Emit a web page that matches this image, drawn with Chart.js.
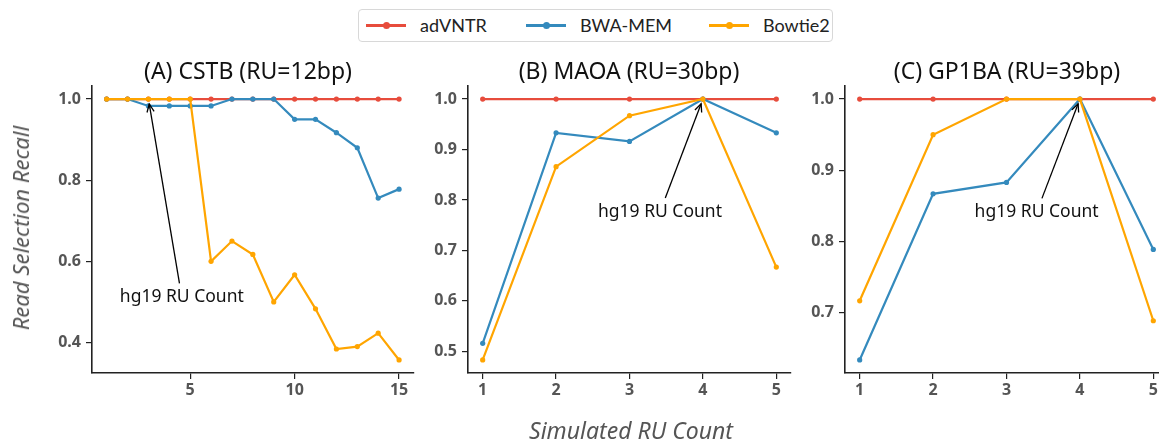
<!DOCTYPE html>
<html>
<head>
<meta charset="utf-8">
<script src="https://cdn.jsdelivr.net/npm/chart.js@4/dist/chart.umd.min.js"></script>
<style>
html,body{margin:0;padding:0;background:#fff;overflow:hidden;}
#wrap{position:relative;width:1159px;height:441px;overflow:hidden;background:#fff;}
canvas{position:absolute;top:0;}
.t{position:absolute;white-space:nowrap;font-family:"Noto Sans",sans-serif;color:#111;}
.title{font-size:23px;transform:translateX(-50%);top:54px;}
.axl{font-style:italic;color:#555;font-size:22px;}
.leg{position:absolute;left:358px;top:9px;width:473px;height:31px;border:1px solid #d8d8d8;border-radius:4px;background:#fff;}
.li{position:absolute;top:0;height:31px;white-space:nowrap;}
.ln{position:absolute;top:14px;width:40px;height:3px;}
.dot{position:absolute;top:12px;width:7px;height:7px;border-radius:50%;}
.lt{position:absolute;top:4px;white-space:nowrap;font-family:Lato,"Noto Sans",sans-serif;font-size:18px;color:#222;}
</style>
</head>
<body>
<div id="wrap">
  <canvas id="cA" width="430" height="441" style="left:0px"></canvas>
  <canvas id="cB" width="390" height="441" style="left:420px"></canvas>
  <canvas id="cC" width="390" height="441" style="left:797px"></canvas>

  <div class="t title" style="left:248px">(A) CSTB (RU=12bp)</div>
  <div class="t title" style="left:629px">(B) MAOA (RU=30bp)</div>
  <div class="t title" style="left:1007px">(C) GP1BA (RU=39bp)</div>

  <div class="t axl" style="left:631px;top:414px;transform:translateX(-50%);font-size:23px">Simulated RU Count</div>
  <div class="t axl" style="left:20px;top:228px;transform:translate(-50%,-50%) rotate(-90deg)">Read Selection Recall</div>

  <div class="leg" id="legend"></div>
</div>
<script>
// ---------------- data ----------------
const seriesNames = ["adVNTR", "BWA-MEM", "Bowtie2"];
const seriesColors = ["#E74C3C", "#348ABD", "#FFA500"];

const titles = ["(A) CSTB (RU=12bp)", "(B) MAOA (RU=30bp)", "(C) GP1BA (RU=39bp)"];

const xA = [1,2,3,4,5,6,7,8,9,10,11,12,13,14,15];
const advntrA = [1,1,1,1,1,1,1,1,1,1,1,1,1,1,1];
const bwaA = [1,1,0.983,0.983,0.983,0.983,1,1,1,0.95,0.95,0.917,0.88,0.756,0.778];
const bowtieA = [1,1,1,1,1,0.6,0.65,0.617,0.5,0.567,0.483,0.384,0.39,0.423,0.357];
const xTicksA = [5,10,15];
const yTicksA = [0.4,0.6,0.8,1.0];

const xB = [1,2,3,4,5];
const advntrB = [1,1,1,1,1];
const bwaB = [0.516,0.933,0.916,1,0.933];
const bowtieB = [0.483,0.866,0.967,1,0.667];
const xTicksB = [1,2,3,4,5];
const yTicksB = [0.5,0.6,0.7,0.8,0.9,1.0];

const xC = [1,2,3,4,5];
const advntrC = [1,1,1,1,1];
const bwaC = [0.634,0.867,0.883,1,0.789];
const bowtieC = [0.717,0.95,1,1,0.689];
const xTicksC = [1,2,3,4,5];
const yTicksC = [0.7,0.8,0.9,1.0];

const annText = "hg19 RU Count";
// [target x, target y, text x, text y] in data units
const annA = [3, 1.0, 4.6, 0.511];
const annB = [4, 1.0, 3.415, 0.776];
const annC = [4, 1.0, 3.41, 0.841];

// ---------------- legend ----------------
const legendX = [7, 167, 350];
const leg = document.getElementById('legend');
seriesNames.forEach((n,i)=>{
  const d = document.createElement('div');
  d.className='li'; d.style.left=legendX[i]+'px';
  d.innerHTML = '<div class="ln" style="left:0;background:'+seriesColors[i]+'"></div>'+
    '<div class="dot" style="left:16.5px;background:'+seriesColors[i]+'"></div>'+
    '<div class="lt" style="left:54px">'+n+'</div>';
  leg.appendChild(d);
});

// ---------------- annotation plugin ----------------
const annPlugin = {
  id:'hgAnno',
  afterDatasetsDraw(chart, args, opts){
    const a = opts.ann; if(!a) return;
    const ctx = chart.ctx, xs = chart.scales.x, ys = chart.scales.y;
    const px = xs.getPixelForValue(a[0]), py = ys.getPixelForValue(a[1]);
    const tx = xs.getPixelForValue(a[2]), ty = ys.getPixelForValue(a[3]);
    ctx.save();
    ctx.font = '17.5px "Noto Sans", sans-serif';
    ctx.fillStyle = '#111';
    ctx.textAlign='center'; ctx.textBaseline='middle';
    ctx.fillText(annText, tx, ty);
    const dx = px - tx, dy = py - ty;
    const L = Math.hypot(dx,dy), ux = dx/L, uy = dy/L;
    const t0 = 14/Math.abs(uy);
    const sx = tx + ux*t0, sy = ty + uy*t0;
    const ex = px - ux*5, ey = py - uy*5;
    ctx.strokeStyle='#000'; ctx.lineWidth=1.3;
    ctx.beginPath(); ctx.moveTo(sx,sy); ctx.lineTo(ex,ey); ctx.stroke();
    const hl=8, hw=3.6;
    const bx = ex - ux*hl, by = ey - uy*hl;
    ctx.beginPath();
    ctx.moveTo(bx - uy*hw, by + ux*hw); ctx.lineTo(ex,ey); ctx.lineTo(bx + uy*hw, by - ux*hw);
    ctx.stroke();
    ctx.restore();
  }
};

// ---------------- charts ----------------
function range(arrs, margin){
  const all = [].concat(...arrs);
  const mn = Math.min(...all), mx = Math.max(...all), r = mx-mn;
  return [mn - margin*r, mx + margin*r];
}

function makeChart(id, xs, ys, xTicks, yTicks, ann, yAxisW, padRight, yDec){
  const [xmin,xmax] = range([xs],0.05);
  const [ymin,ymax] = range(ys,0.05);
  const orders = [3,2,1];
  const datasets = ys.map((arr,i)=>({
    label: seriesNames[i],
    data: arr.map((v,k)=>({x:xs[k], y:v})),
    borderColor: seriesColors[i],
    backgroundColor: seriesColors[i],
    borderWidth: 2.2,
    pointRadius: 2.6,
    pointBorderWidth: 0,
    pointHoverRadius: 2.6,
    tension: 0,
    order: orders[i],
    clip: false
  }));
  const tickFont = {family:'"Noto Sans", sans-serif', size:16, weight:'bold'};
  return new Chart(document.getElementById(id), {
    type:'line',
    data:{datasets},
    options:{
      responsive:false, animation:false, devicePixelRatio:1,
      layout:{padding:{left:0, right:padRight, top:86, bottom:38}},
      plugins:{legend:{display:false}, tooltip:{enabled:false}, hgAnno:{ann}},
      scales:{
        x:{type:'linear', min:xmin, max:xmax,
          afterBuildTicks:s=>{s.ticks = xTicks.map(v=>({value:v}));},
          afterFit:s=>{s.height=30;},
          ticks:{font:tickFont, color:'#555', padding:2, maxRotation:0, autoSkip:false, callback:v=>String(v)},
          grid:{display:true, drawOnChartArea:false, drawTicks:true, tickLength:6, color:'#222', lineWidth:1.2},
          border:{display:true, color:'#222', width:1.6}
        },
        y:{type:'linear', min:ymin, max:ymax,
          afterBuildTicks:s=>{s.ticks = yTicks.map(v=>({value:v}));},
          afterFit:s=>{s.width=yAxisW;},
          ticks:{font:tickFont, color:'#555', padding:5, autoSkip:false, callback:v=>v.toFixed(yDec)},
          grid:{display:true, drawOnChartArea:false, drawTicks:true, tickLength:6, color:'#222', lineWidth:1.2},
          border:{display:true, color:'#222', width:1.6}
        }
      }
    },
    plugins:[annPlugin]
  });
}

makeChart('cA', xA, [advntrA,bwaA,bowtieA], xTicksA, yTicksA, annA, 92, 16.3, 1);
makeChart('cB', xB, [advntrB,bwaB,bowtieB], xTicksB, yTicksB, annB, 48, 19, 1);
makeChart('cC', xC, [advntrC,bwaC,bowtieC], xTicksC, yTicksC, annC, 48, 19, 1);
</script>
</body>
</html>
